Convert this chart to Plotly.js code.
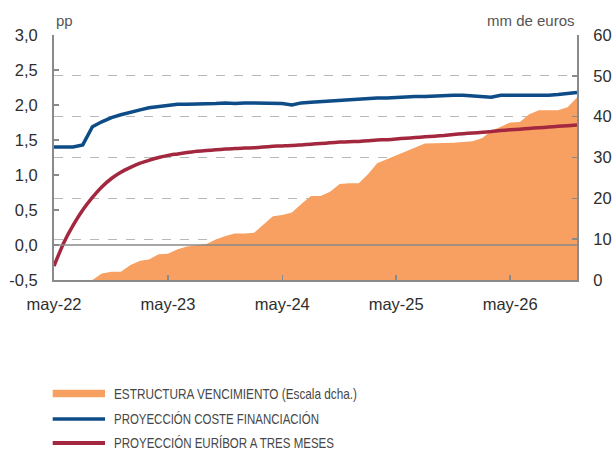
<!DOCTYPE html>
<html>
<head>
<meta charset="utf-8">
<script src="https://cdn.plot.ly/plotly-3.0.1.min.js"></script>
<style>
html,body{margin:0;padding:0;background:#fff;}
#chart{width:614px;height:451px;}
</style>
</head>
<body>
<div id="chart"></div>
<script>
// Monthly dates, May 2022 – Dec 2026
var months = [
 "2022-05-01","2022-06-01","2022-07-01","2022-08-01","2022-09-01","2022-10-01","2022-11-01","2022-12-01",
 "2023-01-01","2023-02-01","2023-03-01","2023-04-01","2023-05-01","2023-06-01","2023-07-01","2023-08-01",
 "2023-09-01","2023-10-01","2023-11-01","2023-12-01","2024-01-01","2024-02-01","2024-03-01","2024-04-01",
 "2024-05-01","2024-06-01","2024-07-01","2024-08-01","2024-09-01","2024-10-01","2024-11-01","2024-12-01",
 "2025-01-01","2025-02-01","2025-03-01","2025-04-01","2025-05-01","2025-06-01","2025-07-01","2025-08-01",
 "2025-09-01","2025-10-01","2025-11-01","2025-12-01","2026-01-01","2026-02-01","2026-03-01","2026-04-01",
 "2026-05-01","2026-06-01","2026-07-01","2026-08-01","2026-09-01","2026-10-01","2026-11-01","2026-12-01"
];

// Estructura vencimiento (mm de euros, right axis)
var vencimiento = [
 0, 0, 0, 0, 0, 1.6, 2.0, 2.0,
 3.7, 4.7, 5.0, 6.3, 6.4, 7.5, 8.2, 8.5,
 8.8, 9.9, 10.8, 11.4, 11.4, 11.6, 13.5, 15.6,
 15.9, 16.5, 18.6, 20.6, 20.6, 21.6, 23.5, 23.7,
 23.7, 26.0, 28.6, 29.6, 30.4, 31.4, 32.4, 33.4,
 33.5, 33.5, 33.6, 33.8, 34.0, 34.8, 36.5, 37.5,
 38.6, 38.7, 40.6, 41.6, 41.6, 41.6, 42.3, 44.7
];

// Proyección coste financiación (pp, left axis)
var coste = [
 1.40, 1.40, 1.40, 1.43, 1.69, 1.76, 1.82, 1.86,
 1.90, 1.93, 1.96, 1.98, 2.00, 2.01, 2.01, 2.01,
 2.02, 2.02, 2.03, 2.02, 2.03, 2.03, 2.02, 2.02,
 2.02, 2.00, 2.03, 2.04, 2.05, 2.06, 2.06, 2.07,
 2.08, 2.10, 2.10, 2.10, 2.11, 2.11, 2.12, 2.12,
 2.13, 2.13, 2.14, 2.14, 2.13, 2.12, 2.11, 2.14,
 2.14, 2.13, 2.14, 2.14, 2.14, 2.15, 2.16, 2.18
];

// Proyección Euríbor a tres meses (pp, left axis)
var euribor = [
 -0.30, 0.03, 0.28, 0.50, 0.68, 0.83, 0.95, 1.04,
 1.11, 1.17, 1.21, 1.25, 1.28, 1.30, 1.32, 1.34,
 1.35, 1.36, 1.37, 1.38, 1.385, 1.39, 1.40, 1.41,
 1.415, 1.42, 1.43, 1.44, 1.45, 1.46, 1.47, 1.475,
 1.48, 1.49, 1.50, 1.505, 1.515, 1.525, 1.535, 1.545,
 1.555, 1.565, 1.58, 1.59, 1.60, 1.61, 1.62, 1.635,
 1.645, 1.655, 1.665, 1.675, 1.685, 1.695, 1.705, 1.715
];

var xTickDates = ["2022-05-01","2023-05-01","2024-05-01","2025-05-01","2026-05-01"];
var xTickLabels = ["may-22","may-23","may-24","may-25","may-26"];
var leftTickVals = [-0.5, 0, 0.5, 1.0, 1.5, 2.0, 2.5, 3.0];
var leftTickLabels = ["-0,5","0,0","0,5","1,0","1,5","2,0","2,5","3,0"];

var seriesNames = [
 "ESTRUCTURA VENCIMIENTO (Escala dcha.)",
 "PROYECCIÓN COSTE FINANCIACIÓN",
 "PROYECCIÓN EURÍBOR A TRES MESES"
];

var ORANGE = "#f7a062", BLUE = "#0d4c87", RED = "#a3283f";
var AXIS = "#8a8a8a", TXT = "#2e2e2e";
var TICKFONT = {family: "Liberation Sans, Arial, sans-serif", size: 16.5, color: TXT};

var traces = [
 {x: months, y: vencimiento, name: seriesNames[0], type: "scatter", mode: "lines",
  fill: "tozeroy", fillcolor: ORANGE, line: {color: ORANGE, width: 0}, yaxis: "y"},
 {x: months, y: coste, name: seriesNames[1], type: "scatter", mode: "lines",
  line: {color: BLUE, width: 3.5}, yaxis: "y2"},
 {x: months, y: euribor, name: seriesNames[2], type: "scatter", mode: "lines",
  line: {color: RED, width: 3.5, shape: "spline", smoothing: 0.6}, yaxis: "y2"}
];

// Legend (drawn in paper coordinates under the plot)
var legendSwatch = [
 {kind: "rect", color: ORANGE, y0: -0.4478, y1: -0.4788},
 {kind: "line", color: BLUE, y: -0.5673, w: 3.5},
 {kind: "line", color: RED, y: -0.6653, w: 4}
];
var legendTextY = [-0.4633, -0.5673, -0.6653];
var legendTextWidths = [243, 205, 220];

var shapes = [
 {type: "line", xref: "paper", x0: 0, x1: 1, yref: "y2", y0: 0, y1: 0,
  line: {color: AXIS, width: 1.5}, layer: "above"}
];
legendSwatch.forEach(function (s) {
 if (s.kind === "rect") {
  shapes.push({type: "rect", xref: "paper", yref: "paper", x0: -0.0025, x1: 0.0975,
   y0: s.y0, y1: s.y1, fillcolor: s.color, line: {width: 0}});
 } else {
  shapes.push({type: "line", xref: "paper", yref: "paper", x0: -0.0025, x1: 0.0975,
   y0: s.y, y1: s.y, line: {color: s.color, width: s.w}});
 }
});

var annotations = [
 {text: "pp", xref: "paper", x: 0.0, xanchor: "left", yref: "paper", y: 1.0, yanchor: "bottom",
  yshift: 4, showarrow: false, font: {size: 15, color: "#555"}},
 {text: "mm de euros", xref: "paper", x: 1.0, xanchor: "right", yref: "paper", y: 1.0, yanchor: "bottom",
  yshift: 4, showarrow: false, font: {size: 15, color: "#555"}}
];
seriesNames.forEach(function (n, i) {
 annotations.push({text: n, xref: "paper", x: 0.1122, xanchor: "left", align: "left",
  yref: "paper", y: legendTextY[i], yanchor: "middle", showarrow: false, borderpad: 0,
  font: {family: "Liberation Sans, Arial, sans-serif", size: 14.5, color: "#474747"}});
});

var layout = {
 width: 614, height: 451,
 margin: {l: 54, r: 37, t: 35, b: 171},
 paper_bgcolor: "#fff", plot_bgcolor: "rgba(0,0,0,0)",
 font: {family: "Liberation Sans, Arial, sans-serif", size: 15, color: TXT},
 separators: ",.",
 showlegend: false,
 xaxis: {
  type: "date", range: ["2022-05-01", "2026-12-01"],
  tickmode: "array", tickvals: xTickDates, ticktext: xTickLabels,
  ticks: "inside", ticklen: 5, tickwidth: 1.5, tickcolor: AXIS,
  showline: true, linecolor: AXIS, linewidth: 2,
  showgrid: false, zeroline: false, ticklabelstandoff: 8,
  tickfont: TICKFONT
 },
 yaxis: {
  range: [0, 60], dtick: 10, side: "right",
  ticks: "inside", ticklen: 5, tickwidth: 1.5, tickcolor: AXIS,
  showline: true, linecolor: AXIS, linewidth: 2,
  showgrid: true, gridcolor: "#b8b8b8", gridwidth: 1.2, griddash: "dash",
  zeroline: false, ticklabelstandoff: 11,
  tickfont: TICKFONT
 },
 yaxis2: {
  range: [-0.5, 3.0], overlaying: "y", side: "left",
  tickmode: "array", tickvals: leftTickVals, ticktext: leftTickLabels,
  ticks: "inside", ticklen: 5, tickwidth: 1.5, tickcolor: AXIS,
  showline: true, linecolor: AXIS, linewidth: 2,
  showgrid: false, zeroline: false,
  ticklabelstandoff: 11,
  tickfont: TICKFONT
 },
 shapes: shapes,
 annotations: annotations
};

Plotly.newPlot("chart", traces, layout, {displayModeBar: false, staticPlot: true}).then(function () {
 var texts = document.querySelectorAll("#chart .annotation-text");
 texts.forEach(function (t) {
  var idx = seriesNames.indexOf(t.textContent);
  if (idx >= 0) {
   t.setAttribute("textLength", legendTextWidths[idx]);
   t.setAttribute("lengthAdjust", "spacingAndGlyphs");
  }
 });
});
</script>
</body>
</html>
